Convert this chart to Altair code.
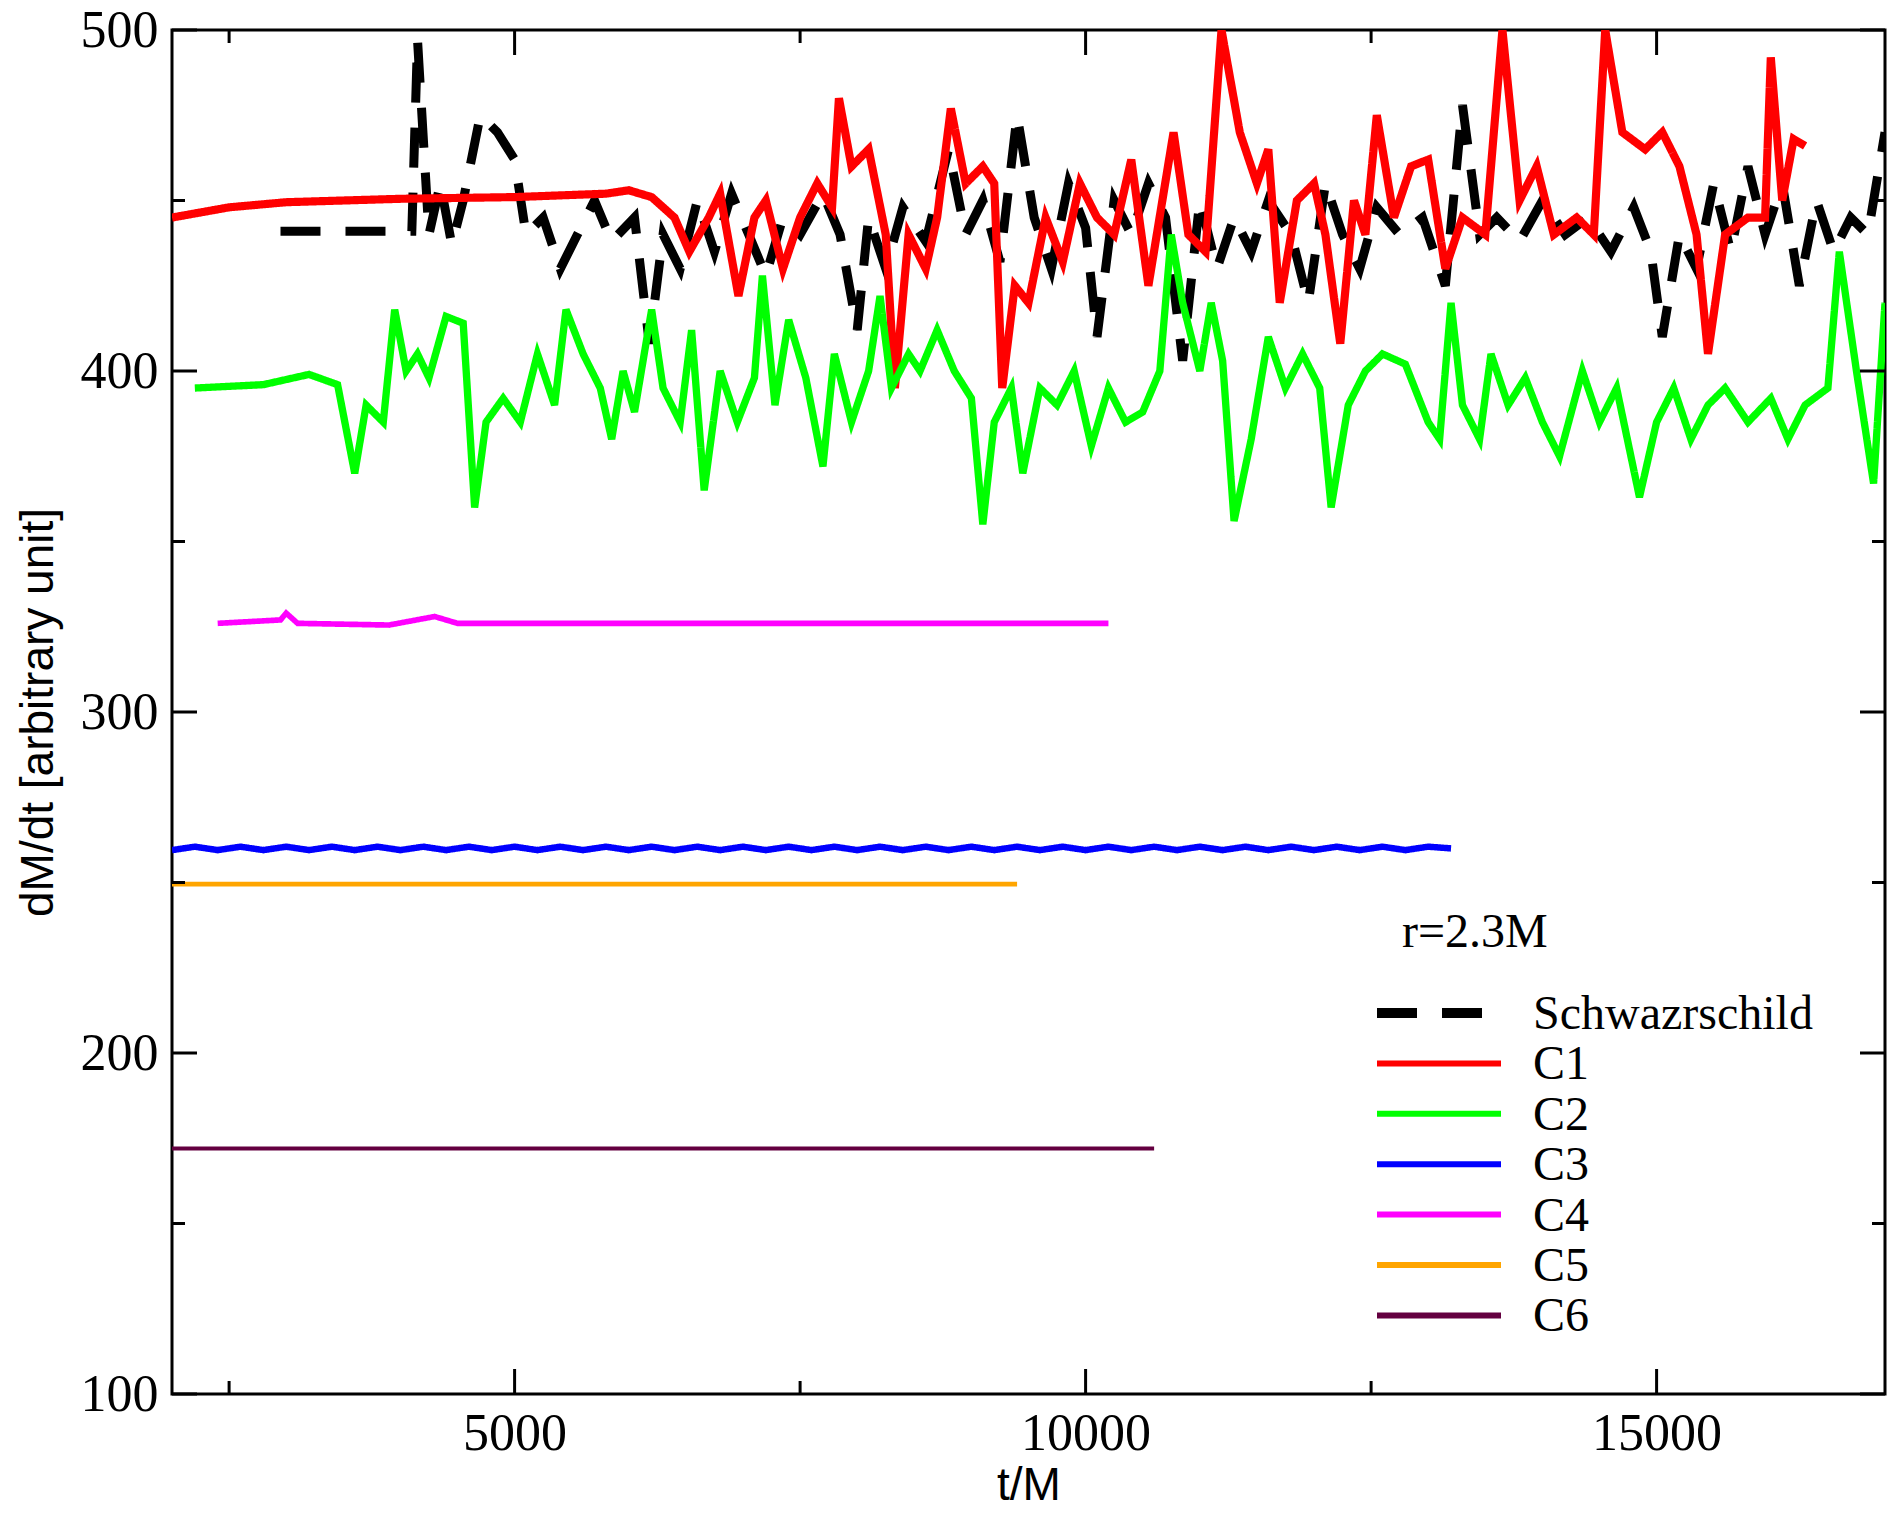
import altair as alt
import pandas as pd

# series values (t/M, dM/dt)
schw_t = [2950, 3500, 3900, 4100, 4150, 4250, 4350, 4450, 4550, 4700, 4850, 5000, 5100, 5250, 5400, 5550, 5700, 5850, 6050, 6180, 6300, 6450, 6600, 6750, 6900, 7050, 7200, 7350, 7500, 7700, 7850, 8000, 8100, 8250, 8400, 8600, 8800, 8950, 9100, 9250, 9400, 9550, 9700, 9850, 10000, 10100, 10250, 10400, 10550, 10700, 10850, 11000, 11150, 11300, 11450, 11600, 11800, 11950, 12100, 12250, 12400, 12550, 12750, 12950, 13150, 13300, 13450, 13600, 13800, 14000, 14200, 14400, 14600, 14800, 14950, 15050, 15200, 15350, 15500, 15650, 15800, 15950, 16100, 16250, 16400, 16550, 16700, 16850, 17000]
schw_v = [441, 441, 441, 441, 497, 440, 455, 437, 450, 475, 470, 462, 440, 445, 430, 440, 450, 438, 445, 408, 440, 430, 450, 435, 452, 440, 428, 445, 440, 452, 440, 412, 445, 430, 448, 438, 465, 440, 450, 432, 475, 445, 430, 455, 442, 410, 450, 440, 455, 445, 403, 450, 430, 445, 435, 450, 440, 420, 455, 440, 430, 448, 440, 445, 425, 478, 440, 445, 438, 450, 440, 445, 435, 448, 435, 410, 440, 430, 455, 435, 460, 440, 455, 425, 450, 435, 445, 440, 470]

c1_t = [2000, 2500, 3000, 3500, 4000, 5000, 5800, 6000, 6200, 6400, 6530, 6700, 6800, 6960, 7100, 7200, 7350, 7500, 7650, 7780, 7840, 7950, 8100, 8250, 8330, 8450, 8600, 8700, 8820, 8950, 9100, 9200, 9270, 9380, 9500, 9650, 9800, 9950, 10100, 10250, 10400, 10550, 10770, 10900, 11050, 11190, 11350, 11500, 11600, 11700, 11850, 12000, 12100, 12230, 12350, 12450, 12550, 12700, 12850, 13000, 13150, 13300, 13500, 13650, 13800, 13950, 14100, 14300, 14450, 14550, 14700, 14900, 15050, 15200, 15350, 15450, 15600, 15800, 15950, 16000, 16100, 16200, 16300]
c1_v = [445, 448, 449.5, 450, 450.5, 451, 452, 453, 451, 445, 435, 445, 452, 422, 445, 450, 430, 445, 455, 448, 480, 460, 465, 440, 395, 440, 430, 445, 477, 455, 460, 455, 395, 425, 420, 445, 432, 455, 445, 440, 462, 425, 470, 440, 435, 500, 470, 455, 465, 420, 450, 455, 440, 408, 450, 440, 475, 445, 460, 462, 430, 445, 440, 500, 450, 460, 440, 445, 440, 500, 470, 465, 470, 460, 440, 405, 440, 445, 445, 492, 450, 468, 466]

c2_t = [2200, 2800, 3200, 3450, 3600, 3700, 3850, 3950, 4050, 4150, 4250, 4400, 4550, 4650, 4750, 4900, 5050, 5200, 5350, 5450, 5600, 5750, 5850, 5950, 6050, 6200, 6300, 6450, 6550, 6660, 6800, 6950, 7100, 7170, 7280, 7400, 7550, 7700, 7800, 7950, 8100, 8200, 8300, 8450, 8550, 8700, 8850, 9000, 9100, 9200, 9350, 9450, 9600, 9750, 9900, 10050, 10200, 10350, 10500, 10650, 10750, 10850, 11000, 11100, 11200, 11300, 11450, 11600, 11750, 11900, 12050, 12150, 12300, 12450, 12600, 12800, 13000, 13100, 13200, 13300, 13450, 13550, 13700, 13850, 14000, 14150, 14350, 14500, 14650, 14850, 15000, 15150, 15300, 15450, 15600, 15800, 16000, 16150, 16300, 16500, 16600, 16750, 16900, 17000]
c2_v = [395, 396, 399, 396, 370, 390, 385, 418, 400, 405, 398, 416, 414, 360, 385, 392, 385, 405, 390, 418, 405, 395, 380, 400, 388, 418, 395, 385, 412, 365, 400, 385, 398, 428, 390, 415, 398, 372, 405, 385, 400, 422, 395, 405, 400, 412, 400, 392, 355, 385, 395, 370, 395, 390, 400, 378, 395, 385, 388, 400, 440, 420, 400, 420, 403, 356, 380, 410, 395, 405, 395, 360, 390, 400, 405, 402, 385, 380, 420, 390, 380, 405, 390, 398, 385, 375, 400, 385, 395, 363, 385, 395, 380, 390, 395, 385, 392, 380, 390, 395, 435, 400, 367, 420]

c3_t = [2000, 2200, 2400, 2600, 2800, 3000, 3200, 3400, 3600, 3800, 4000, 4200, 4400, 4600, 4800, 5000, 5200, 5400, 5600, 5800, 6000, 6200, 6400, 6600, 6800, 7000, 7200, 7400, 7600, 7800, 8000, 8200, 8400, 8600, 8800, 9000, 9200, 9400, 9600, 9800, 10000, 10200, 10400, 10600, 10800, 11000, 11200, 11400, 11600, 11800, 12000, 12200, 12400, 12600, 12800, 13000, 13200]
c3_v = [259.5, 260.5, 259.5, 260.5, 259.5, 260.5, 259.5, 260.5, 259.5, 260.5, 259.5, 260.5, 259.5, 260.5, 259.5, 260.5, 259.5, 260.5, 259.5, 260.5, 259.5, 260.5, 259.5, 260.5, 259.5, 260.5, 259.5, 260.5, 259.5, 260.5, 259.5, 260.5, 259.5, 260.5, 259.5, 260.5, 259.5, 260.5, 259.5, 260.5, 259.5, 260.5, 259.5, 260.5, 259.5, 260.5, 259.5, 260.5, 259.5, 260.5, 259.5, 260.5, 259.5, 260.5, 259.5, 260.5, 260]

c4_t = [2400, 2950, 3000, 3100, 3900, 4300, 4500, 10200]
c4_v = [326, 327, 329, 326, 325.5, 328, 326, 326]

c5_t = [2000, 9400]
c5_v = [249.5, 249.5]

c6_t = [2000, 10600]
c6_v = [172, 172]

names = ["Schwazrschild", "C1", "C2", "C3", "C4", "C5", "C6"]
colors = ["#000000", "#ff0000", "#00ff00", "#0000ff", "#ff00ff", "#ffa500", "#640040"]
dashes = [[40, 25], [1, 0], [1, 0], [1, 0], [1, 0], [1, 0], [1, 0]]
widths = [9, 4, 4, 5, 4, 4, 4]
legend_title = "r=2.3M"

x_major = [5000, 10000, 15000]
x_minor = [2500, 7500, 12500]
y_major = [100, 200, 300, 400, 500]
y_minor = [150, 250, 350, 450]

W, H = 1713, 1364
SERIF = "Liberation Serif"

rows = []
series = [(schw_t, schw_v), (c1_t, c1_v), (c2_t, c2_v), (c3_t, c3_v),
          (c4_t, c4_v), (c5_t, c5_v), (c6_t, c6_v)]
for i, (ts, vs) in enumerate(series):
    for k, (t, v) in enumerate(zip(ts, vs)):
        rows.append({"t": t, "v": v, "s": names[i], "k": k})
df = pd.DataFrame(rows)

xs = alt.Scale(domain=[2000, 17000], nice=False, zero=False)
ys = alt.Scale(domain=[100, 500], nice=False, zero=False)

lines = alt.Chart(df).mark_line(clip=True).encode(
    x=alt.X("t:Q", scale=xs, title="t/M",
            axis=alt.Axis(values=x_major, format="d")),
    y=alt.Y("v:Q", scale=ys, title="dM/dt [arbitrary unit]",
            axis=alt.Axis(values=y_major, format="d")),
    color=alt.Color("s:N", scale=alt.Scale(domain=names, range=colors), legend=None),
    strokeDash=alt.StrokeDash("s:N", scale=alt.Scale(domain=names, range=dashes), legend=None),
    strokeWidth=alt.StrokeWidth("s:N", scale=alt.Scale(domain=names, range=widths), legend=None),
    detail="s:N",
    order="k:Q",
)

xt = pd.DataFrame({"t": x_major + x_minor, "len": [25] * 3 + [13] * 3})
yt = pd.DataFrame({"v": y_major + y_minor, "len": [25] * 5 + [13] * 4})


def xticks(df_, ln, top):
    y0 = 0 if top else H
    y1 = ln if top else H - ln
    return alt.Chart(df_).mark_rule(color="black", strokeWidth=3).encode(
        x=alt.X("t:Q", scale=xs), y=alt.value(y0), y2=alt.value(y1))


def yticks(df_, ln, right):
    x0 = W if right else 0
    x1 = W - ln if right else ln
    return alt.Chart(df_).mark_rule(color="black", strokeWidth=3).encode(
        y=alt.Y("v:Q", scale=ys), x=alt.value(x0), x2=alt.value(x1))


layers = [lines]
for top in (False, True):
    layers.append(xticks(xt[xt.len == 25], 25, top))
    layers.append(xticks(xt[xt.len == 13], 13, top))
for right in (False, True):
    layers.append(yticks(yt[yt.len == 25], 25, right))
    layers.append(yticks(yt[yt.len == 13], 13, right))

# hand-placed legend, like the xmgrace one inside the frame
one = pd.DataFrame({"a": [0]})
layers.append(alt.Chart(one).mark_text(
    text=legend_title, font=SERIF, fontSize=48, align="left", baseline="middle", color="black"
).encode(x=alt.value(1230), y=alt.value(903)))
for i, name in enumerate(names):
    yc = 983 + i * 50.4
    layers.append(alt.Chart(one).mark_rule(
        color=colors[i], strokeWidth=10 if i == 0 else 6, strokeDash=dashes[i]
    ).encode(x=alt.value(1205), x2=alt.value(1329), y=alt.value(yc)))
    layers.append(alt.Chart(one).mark_text(
        text=name, font=SERIF, fontSize=48, align="left", baseline="middle", color="black"
    ).encode(x=alt.value(1361), y=alt.value(yc + 2)))

chart = alt.layer(*layers).properties(
    width=W, height=H,
    autosize=alt.AutoSizeParams(type="none"),
    padding={"left": 164, "top": 22, "right": 2, "bottom": 118},
).configure_view(
    stroke="black", strokeWidth=3
).configure_axis(
    ticks=False, domain=False, grid=False,
    labelFont=SERIF, labelFontSize=52, labelColor="black",
    titleFont="Liberation Sans", titleFontSize=46, titleFontWeight="normal", titleColor="black",
).configure_axisX(
    labelPadding=14, titlePadding=4
).configure_axisY(
    labelPadding=14, titlePadding=18
)

chart.save("out.html", embed_options={"renderer": "svg", "actions": False})
